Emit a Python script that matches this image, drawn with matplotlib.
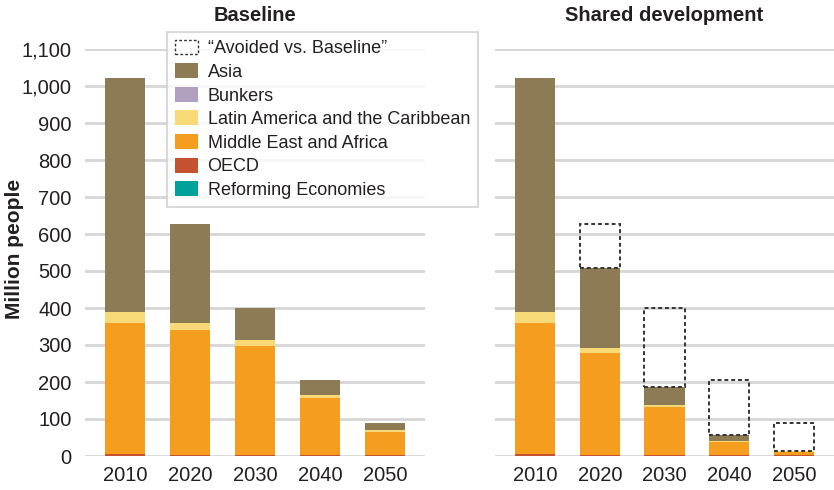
import numpy as np
import matplotlib.pyplot as plt
from matplotlib.patches import Patch

plt.rcParams['font.family'] = ['Liberation Sans', 'DejaVu Sans']

years = ['2010', '2020', '2030', '2040', '2050']
regions = ['Reforming Economies', 'OECD', 'Middle East and Africa',
           'Latin America and the Caribbean', 'Bunkers', 'Asia']
colors = {'Asia': '#8c7b55', 'Bunkers': '#b1a1c0',
          'Latin America and the Caribbean': '#f8d977',
          'Middle East and Africa': '#f59d1e', 'OECD': '#c5522e',
          'Reforming Economies': '#00a19a'}

# Baseline (million people)
base_reforming = [0.5, 0.5, 0.5, 0.5, 0.5]
base_oecd = [5, 3, 1, 1, 1]
base_mea = [354, 338, 296, 156, 64]
base_latam = [30, 19, 16, 8, 5]
base_bunkers = [0, 0, 0, 0, 0]
base_asia = [632, 267, 87, 40, 19]

# Shared development (million people)
shared_reforming = [0.5, 0.5, 0.5, 0.5, 0.5]
shared_oecd = [5, 2, 1, 1, 1]
shared_mea = [354, 276, 130, 37, 9]
shared_latam = [30, 14, 7, 3, 2]
shared_bunkers = [0, 0, 0, 0, 0]
shared_asia = [632, 216, 49, 16, 2]

baseline = [base_reforming, base_oecd, base_mea, base_latam, base_bunkers, base_asia]
shared = [shared_reforming, shared_oecd, shared_mea, shared_latam, shared_bunkers, shared_asia]

fig = plt.figure(figsize=(8.34, 4.9), dpi=100)
ax1 = fig.add_axes([85 / 834, 1 - 456 / 490, 340 / 834, 407 / 490])
ax2 = fig.add_axes([495 / 834, 1 - 456 / 490, 339 / 834, 407 / 490])

x = np.arange(len(years))
w = 0.62
txt = '#231f20'


def stack(ax, series):
    bottom = np.zeros(len(years))
    for name, vals in zip(regions, series):
        vals = np.array(vals, dtype=float)
        ax.bar(x, vals, w, bottom=bottom, color=colors[name], linewidth=0, zorder=2)
        bottom += vals
    return bottom


base_total = stack(ax1, baseline)
shared_total = stack(ax2, shared)
avoided = base_total - shared_total
mask = avoided > 1
ax2.bar(x[mask], avoided[mask], w, bottom=shared_total[mask], facecolor='none',
        edgecolor='#333333', linestyle=(0, (2, 1.5)), linewidth=1.4, zorder=3)

for ax, title in [(ax1, 'Baseline'), (ax2, 'Shared development')]:
    ax.set_xlim(-0.62, 4.62)
    ax.set_ylim(0, 1100)
    ax.set_yticks(range(0, 1101, 100))
    ax.yaxis.grid(True, color='#d6d6d6', linewidth=2)
    ax.set_axisbelow(True)
    for s in ax.spines.values():
        s.set_visible(False)
    ax.set_xticks(x)
    ax.set_xticklabels(years, fontsize=14.5, color=txt)
    ax.tick_params(length=0)
    ax.tick_params(axis='x', pad=7)
    ax.set_title(title, fontsize=14.5, fontweight='bold', color=txt, pad=20)

ax1.set_yticklabels([f'{v:,}' for v in range(0, 1101, 100)], fontsize=14.5, color=txt)
ax1.tick_params(axis='y', pad=9.5)
ax2.set_yticklabels([])
fig.text(14.5 / 834, 1 - 249 / 490, 'Million people', rotation=90, ha='center', va='center',
         fontsize=15, fontweight='bold', color=txt)

handles = [Patch(facecolor='white', edgecolor='#333333', linestyle=(0, (2, 1.5)),
                 linewidth=1, label='\u201cAvoided vs. Baseline\u201d')]
for name in ['Asia', 'Bunkers', 'Latin America and the Caribbean',
             'Middle East and Africa', 'OECD', 'Reforming Economies']:
    handles.append(Patch(facecolor=colors[name], label=name))
leg = fig.legend(handles=handles, loc='upper left', bbox_to_anchor=(167 / 834, 1 - 32 / 490),
                 bbox_transform=fig.transFigure, borderaxespad=0, fontsize=13,
                 frameon=True, fancybox=False, handlelength=1.28, handleheight=0.89,
                 handletextpad=0.55, labelspacing=0.33, borderpad=0.42)
leg.get_frame().set_edgecolor('#d0d0d0')
leg.get_frame().set_linewidth(1.5)
for t in leg.get_texts():
    t.set_color(txt)

fig.savefig('out.png', dpi=100)
